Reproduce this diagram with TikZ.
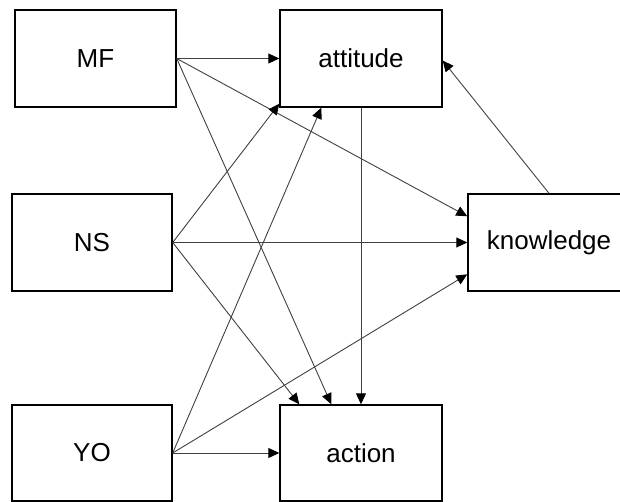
\documentclass[tikz,border=0pt]{standalone}
\usepackage{fontspec}
\setmainfont{Liberation Sans}
\usetikzlibrary{arrows.meta,calc}
\begin{document}
\begin{tikzpicture}[x=1pt,y=-1pt,
  box/.style={draw=black,line width=1.4pt,minimum width=161pt,minimum height=97pt,inner sep=0pt,font=\fontsize{26}{30}\selectfont},
  conn/.style={draw=black!75,line width=0.9pt,-{Triangle[length=11pt,width=10pt,fill=black,color=black]}}]
\useasboundingbox (0,0) rectangle (620,502);
\node[box] (mf) at (95.5,58.5) {MF};
\node[box,minimum width=162pt] (att) at (361,58.5) {attitude};
\node[box,minimum width=160pt] (ns) at (92,242.5) {NS};
\node[box,minimum width=162pt] (kn) at (549,242.5) {knowledge};
\node[box,minimum width=160pt,minimum height=96pt] (yo) at (92,453) {YO};
\node[box,minimum width=162pt,minimum height=96pt] (act) at (361,453) {action};
\coordinate (kn1) at ($(kn.north west)+(0,23)$);
\coordinate (kn3) at ($(kn.north west)+(0,81)$);
\coordinate (act1) at ($(act.north west)+(20,0)$);
\coordinate (act2) at ($(act.north west)+(52,0)$);
\coordinate (att1) at ($(att.south west)+(0,-4)$);
\coordinate (att2) at ($(att.south west)+(42,0)$);
\coordinate (att3) at ($(att.east)+(0,2)$);
\draw[conn] (mf.east) -- (att.west);
\draw[conn] (mf.east) -- (kn1);
\draw[conn] (mf.east) -- (act2);
\draw[conn] (ns.east) -- (att1);
\draw[conn] (ns.east) -- (kn.west);
\draw[conn] (ns.east) -- (act1);
\draw[conn] (yo.east) -- (att2);
\draw[conn] (yo.east) -- (kn3);
\draw[conn] (yo.east) -- (act.west);
\draw[conn] (att.south) -- (act.north);
\draw[conn] (kn.north) -- (att3);
\end{tikzpicture}
\end{document}
